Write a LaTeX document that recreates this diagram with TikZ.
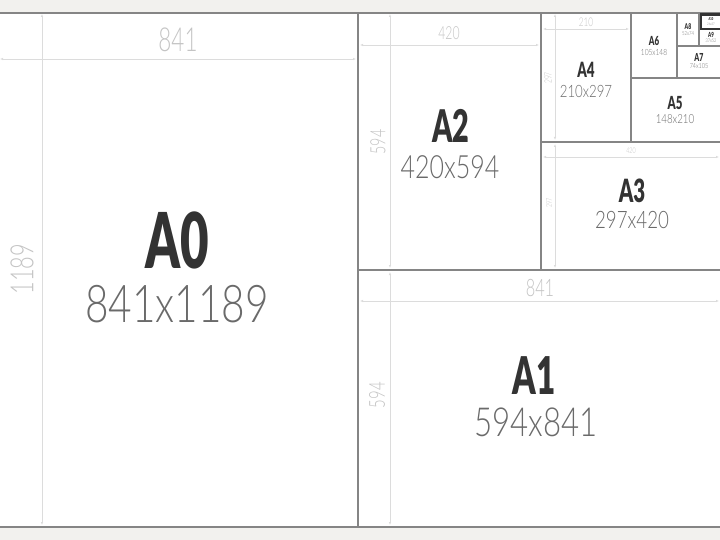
\documentclass[tikz,border=0pt]{standalone}
\usepackage{fontspec}
\setmainfont{Liberation Sans}
\newfontfamily\boldcond[FakeStretch=0.64]{Lato Black}
\newfontfamily\regcond[FakeStretch=0.78]{Lato Light}
\newfontfamily\dimcond[FakeStretch=0.68]{Lato Light}
\usetikzlibrary{arrows.meta}
\definecolor{bandc}{HTML}{F2F1EE}
\definecolor{labc}{HTML}{333333}
\definecolor{sizec}{HTML}{6A6A6A}
\definecolor{dimtc}{HTML}{C4C4C4}
\definecolor{dimlc}{HTML}{DCDCDC}
\definecolor{linec}{HTML}{858585}
\tikzset{
  papername/.style={font=\boldcond\fontsize{#1}{#1}\selectfont, text=labc, inner sep=0pt},
  papersize/.style={font=\regcond\fontsize{#1}{#1}\selectfont, text=sizec, inner sep=0pt},
  dimtext/.style={font=\dimcond\fontsize{#1}{#1}\selectfont, text=dimtc, inner sep=0pt},
  dimline/.style={draw=dimlc, line width=0.8pt, {Latex[length=3pt,width=2.4pt]}-{Latex[length=3pt,width=2.4pt]}},
  sheetline/.style={draw=linec, line width=1.2pt},
}
\begin{document}
\begin{tikzpicture}[x=1pt,y=-1pt]
\useasboundingbox (0,0) rectangle (720,540);
\fill[white] (0,0) rectangle (720,540);
\fill[bandc] (0,0) rectangle (720,13);
\fill[bandc] (0,527) rectangle (720,540);

% dimension lines
\draw[dimline] (0,59) -- (356,59);
\draw[dimline] (42,14) -- (42,525);
\draw[dimline] (360,45) -- (539,45);
\draw[dimline] (390,14) -- (390,268);
\draw[dimline] (360,301) -- (719,301);
\draw[dimline] (390,272) -- (390,525);
\draw[dimline] (543,157) -- (719,157);
\draw[dimline] (555,144) -- (555,268);
\draw[dimline] (543,29) -- (629,29);
\draw[dimline] (555,14) -- (555,140);

% sheet borders
\draw[sheetline] (0,13) -- (720,13);
\draw[sheetline] (0,527) -- (720,527);
\draw[sheetline] (358,13) -- (358,527);
\draw[sheetline] (358,270) -- (720,270);
\draw[sheetline] (541,13) -- (541,270);
\draw[sheetline] (541,142) -- (720,142);
\draw[sheetline] (631,13) -- (631,142);
\draw[sheetline] (631,78) -- (720,78);
\draw[sheetline] (677,13) -- (677,78);
\draw[sheetline] (677,46) -- (720,46);
\draw[sheetline] (699,13) -- (699,46);
\draw[draw=labc, line width=2.2pt] (700.6,14.6) rectangle (721,29.2);

% dimension texts
\node[dimtext=33] (d0w) at (178,40) {841};
\node[dimtext=32, rotate=90] (d0h) at (22,269) {1189};
\node[dimtext=18] (d2w) at (449,33) {420};
\node[dimtext=21, rotate=90] (d2h) at (378,142) {594};
\node[dimtext=24] (d1w) at (540,288) {841};
\node[dimtext=22, rotate=90] (d1h) at (377,395) {594};
\node[dimtext=8] (d3w) at (631,151) {420};
\node[dimtext=8, rotate=90] (d3h) at (549,203) {297};
\node[dimtext=12] (d4w) at (586,22) {210};
\node[dimtext=10, rotate=90] (d4h) at (548,78) {297};

% paper names and sizes
\node[papername=77] (a0) at (177,240) {A0};
\node[papersize=52] (s0) at (177,304) {841x1189};
\node[papername=52] (a1) at (534,376) {A1};
\node[papersize=40] (s1) at (536,422) {594x841};
\node[papername=45] (a2) at (451,126) {A2};
\node[papersize=32] (s2) at (450,167) {420x594};
\node[papername=32] (a3) at (632,191) {A3};
\node[papersize=24] (s3) at (632,220) {297x420};
\node[papername=21] (a4) at (586,70) {A4};
\node[papersize=17] (s4) at (586,91) {210x297};
\node[papername=18] (a5) at (675,103) {A5};
\node[papersize=12.5] (s5) at (675,119) {148x210};
\node[papername=12.5] (a6) at (654,41) {A6};
\node[papersize=8.5] (s6) at (654,52) {105x148};
\node[papername=11] (a7) at (699,57) {A7};
\node[papersize=7] (s7) at (699,66) {74x105};
\node[papername=8] (a8) at (688,27) {A8};
\node[papersize=5.5] (s8) at (688,34) {52x74};
\node[papername=7] (a9) at (711,35) {A9};
\node[papersize=5] (s9) at (711,41) {37x52};
\node[papername=4] (a10) at (711,19.5) {A10};
\node[papersize=3.5] (s10) at (711,24.5) {26x37};
\end{tikzpicture}
\end{document}
